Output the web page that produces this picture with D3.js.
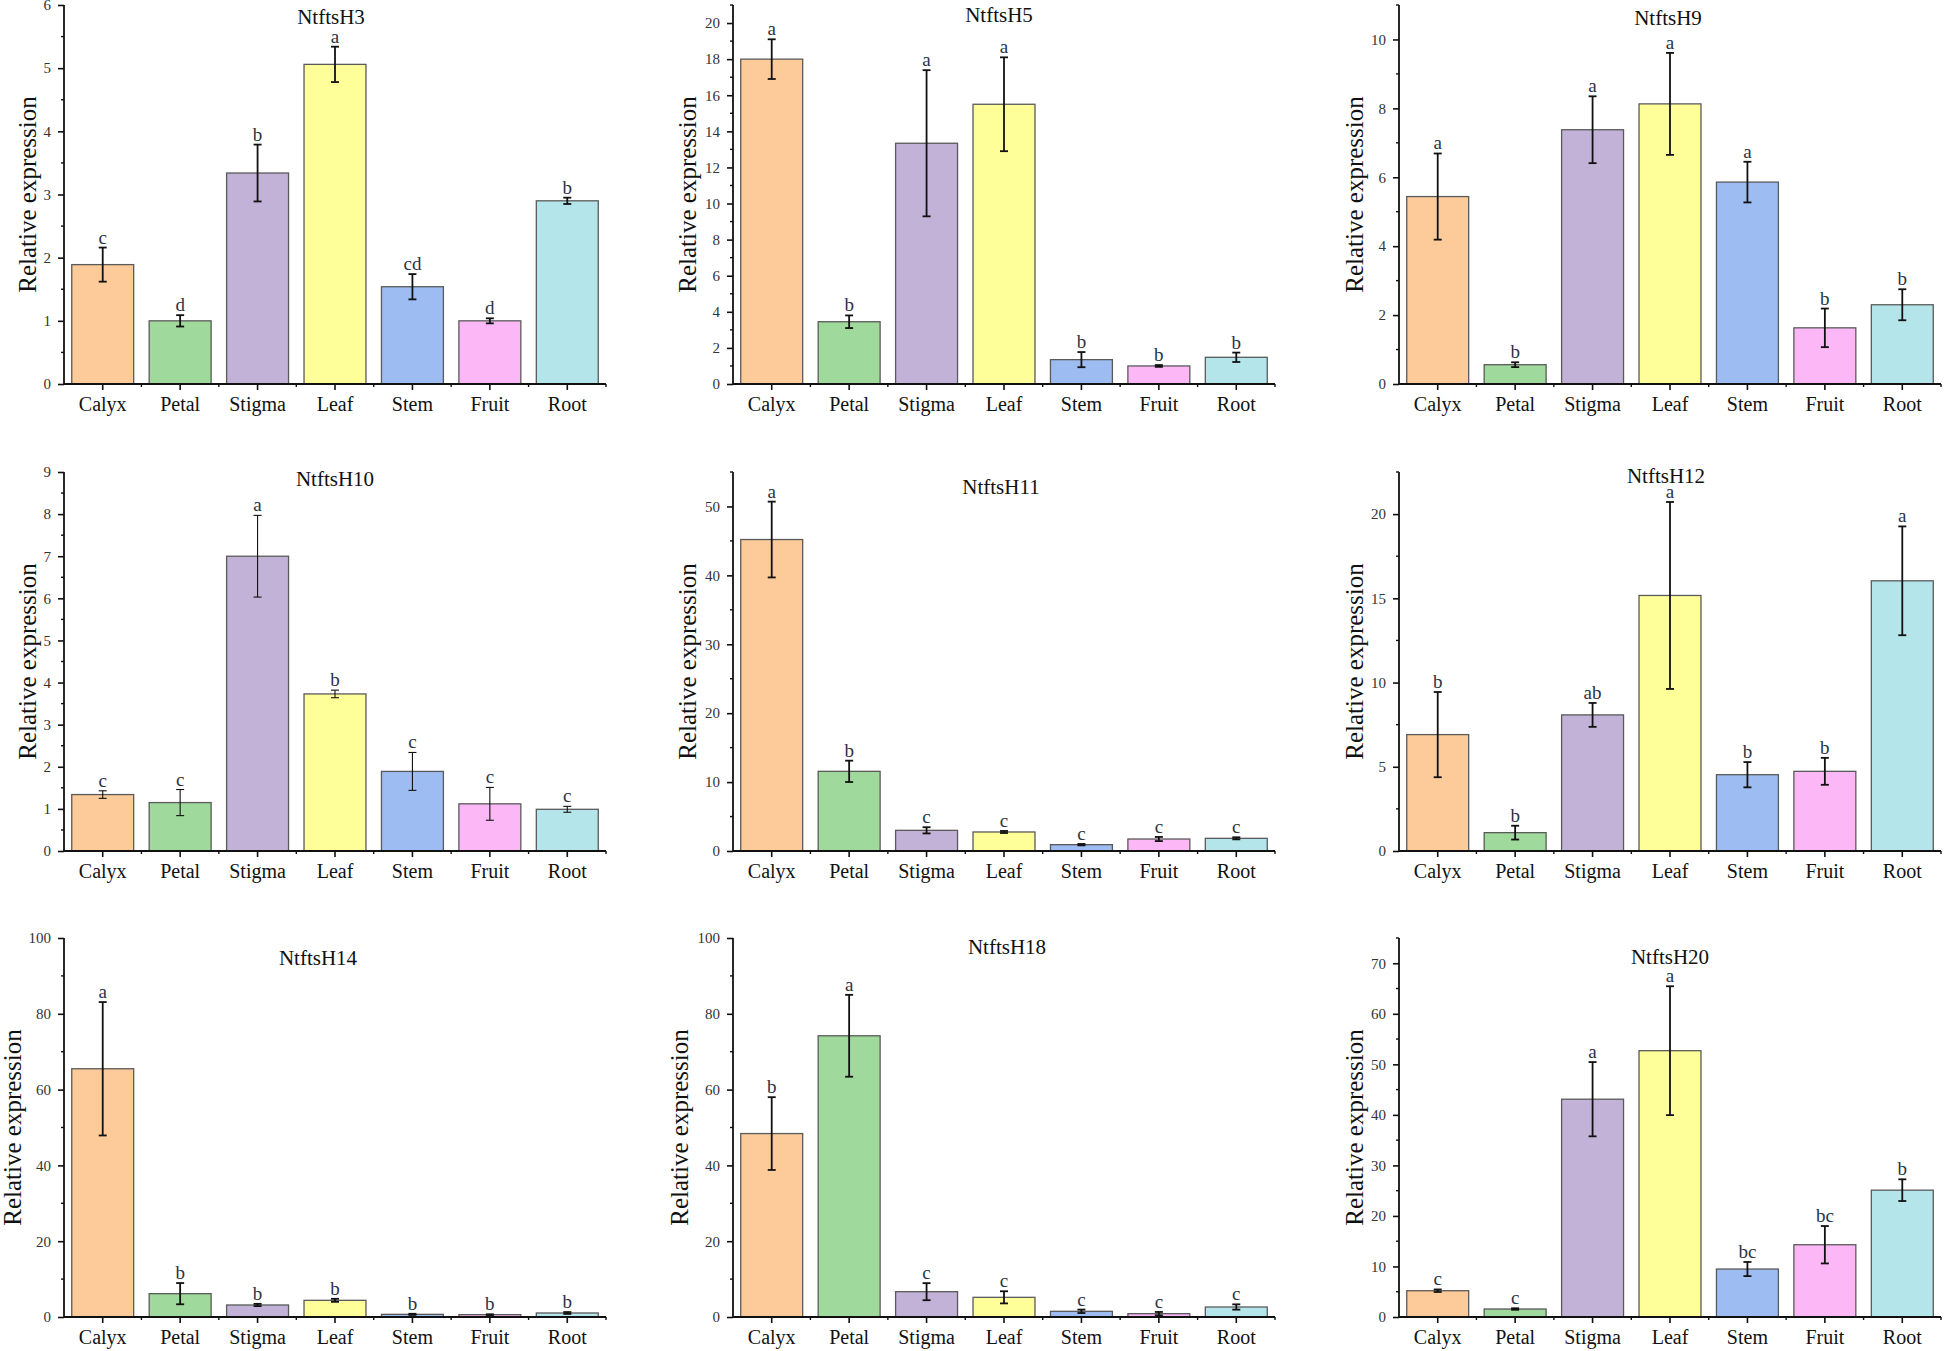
<!DOCTYPE html>
<html>
<head>
<meta charset="utf-8">
<script src="https://cdn.jsdelivr.net/npm/d3@7"></script>
<style>
  html, body { margin: 0; padding: 0; background: #ffffff; }
  svg { display: block; }
  text { font-family: "Liberation Serif", "Times New Roman", serif; }
</style>
</head>
<body>
<svg id="chart" width="1944" height="1351"></svg>
<script>
// ---------------- DATA ----------------
const categories = ["Calyx", "Petal", "Stigma", "Leaf", "Stem", "Fruit", "Root"];
const genes = ["NtftsH3", "NtftsH5", "NtftsH9", "NtftsH10", "NtftsH11", "NtftsH12", "NtftsH14", "NtftsH18", "NtftsH20"];
const yAxisMax = [6, 21, 11, 9, 55, 22.5, 100, 100, 75];
const yMajorStep = [1, 2, 2, 1, 10, 5, 20, 20, 10];

const h3Mean = [1.89, 1.00, 3.34, 5.06, 1.54, 1.00, 2.90];
const h3Err = [0.27, 0.09, 0.45, 0.28, 0.20, 0.04, 0.05];
const h3Letters = ["c", "d", "b", "a", "cd", "d", "b"];

const h5Mean = [18.0, 3.45, 13.34, 15.5, 1.35, 1.00, 1.48];
const h5Err = [1.1, 0.35, 4.05, 2.6, 0.42, 0.05, 0.26];
const h5Letters = ["a", "b", "a", "a", "b", "b", "b"];

const h9Mean = [5.44, 0.56, 7.38, 8.13, 5.86, 1.63, 2.30];
const h9Err = [1.25, 0.07, 0.97, 1.48, 0.59, 0.56, 0.45];
const h9Letters = ["a", "b", "a", "a", "a", "b", "b"];

const h10Mean = [1.34, 1.15, 7.00, 3.73, 1.89, 1.12, 0.99];
const h10Err = [0.09, 0.31, 0.97, 0.09, 0.45, 0.39, 0.07];
const h10Letters = ["c", "c", "a", "b", "c", "c", "c"];

const h11Mean = [45.2, 11.56, 3.0, 2.76, 0.92, 1.74, 1.84];
const h11Err = [5.5, 1.55, 0.45, 0.15, 0.1, 0.3, 0.15];
const h11Letters = ["a", "b", "c", "c", "c", "c", "c"];

const h12Mean = [6.91, 1.09, 8.08, 15.17, 4.53, 4.73, 16.04];
const h12Err = [2.53, 0.41, 0.71, 5.55, 0.75, 0.80, 3.23];
const h12Letters = ["b", "b", "ab", "a", "b", "b", "a"];

const h14Mean = [65.5, 6.16, 3.17, 4.4, 0.7, 0.62, 1.06];
const h14Err = [17.6, 2.8, 0.3, 0.4, 0.15, 0.1, 0.25];
const h14Letters = ["a", "b", "b", "b", "b", "b", "b"];

const h18Mean = [48.4, 74.2, 6.68, 5.19, 1.5, 0.88, 2.64];
const h18Err = [9.6, 10.8, 2.25, 1.6, 0.45, 0.45, 0.7];
const h18Letters = ["b", "a", "c", "c", "c", "c", "c"];

const h20Mean = [5.2, 1.58, 43.1, 52.7, 9.49, 14.3, 25.1];
const h20Err = [0.25, 0.15, 7.35, 12.75, 1.4, 3.7, 2.15];
const h20Letters = ["c", "c", "a", "a", "bc", "bc", "b"];

const barColors = ["#FCCB99", "#9FD99B", "#C3B2D8", "#FFFF99", "#9DBCF2", "#FCB8F6", "#B4E5EA"];

const seriesMeans = [h3Mean, h5Mean, h9Mean, h10Mean, h11Mean, h12Mean, h14Mean, h18Mean, h20Mean];
const seriesErrs = [h3Err, h5Err, h9Err, h10Err, h11Err, h12Err, h14Err, h18Err, h20Err];
const seriesLetters = [h3Letters, h5Letters, h9Letters, h10Letters, h11Letters, h12Letters, h14Letters, h18Letters, h20Letters];

// ---------------- LAYOUT ----------------
const colX = [64, 733, 1399];
const rowTop = [5, 472, 938];
const plotW = 542, plotH = 379;
const titleOffset = [[267, 19], [266, 17], [269, 20], [271, 14], [268, 22], [267, 11], [254, 27], [274, 16], [271, 26]];
const ylabOffset = [37, 46, 45, 37, 46, 45, 52, 54, 45];

const svg = d3.select("#chart");

genes.forEach((gene, gi) => {
  const col = gi % 3, row = Math.floor(gi / 3);
  const x0 = colX[col], yTop = rowTop[row], yBot = yTop + plotH;
  const means = seriesMeans[gi], errs = seriesErrs[gi], letters = seriesLetters[gi];

  const x = d3.scaleBand().domain(categories).range([x0, x0 + plotW])
    .paddingInner(0.2).paddingOuter(0.1);
  const y = d3.scaleLinear().domain([0, yAxisMax[gi]]).range([yBot, yTop]);

  const g = svg.append("g");

  // bars
  g.selectAll("rect.bar").data(categories).join("rect")
    .attr("class", "bar")
    .attr("x", d => x(d))
    .attr("width", x.bandwidth())
    .attr("y", (d, i) => y(means[i]))
    .attr("height", (d, i) => y(0) - y(means[i]))
    .attr("fill", (d, i) => barColors[i])
    .attr("stroke", "#5a5a5a")
    .attr("stroke-width", 1.3);

  // error bars
  const ew = gi === 3 ? 1.1 : 1.8;
  const cap = 4;
  const eg = g.selectAll("g.err").data(categories).join("g").attr("class", "err")
    .attr("stroke", "#111").attr("stroke-width", ew);
  eg.append("line")
    .attr("x1", d => x(d) + x.bandwidth() / 2).attr("x2", d => x(d) + x.bandwidth() / 2)
    .attr("y1", (d, i) => y(means[i] + errs[i])).attr("y2", (d, i) => y(Math.max(0, means[i] - errs[i])));
  eg.append("line")
    .attr("x1", d => x(d) + x.bandwidth() / 2 - cap).attr("x2", d => x(d) + x.bandwidth() / 2 + cap)
    .attr("y1", (d, i) => y(means[i] + errs[i])).attr("y2", (d, i) => y(means[i] + errs[i]));
  eg.append("line")
    .attr("x1", d => x(d) + x.bandwidth() / 2 - cap).attr("x2", d => x(d) + x.bandwidth() / 2 + cap)
    .attr("y1", (d, i) => y(Math.max(0, means[i] - errs[i]))).attr("y2", (d, i) => y(Math.max(0, means[i] - errs[i])));

  // significance letters
  g.selectAll("text.sig").data(categories).join("text")
    .attr("class", "sig")
    .attr("x", d => x(d) + x.bandwidth() / 2)
    .attr("y", (d, i) => y(means[i] + errs[i]) - 4)
    .attr("text-anchor", "middle")
    .attr("font-size", 19)
    .attr("fill", "#2b3346")
    .text((d, i) => letters[i]);

  // y axis
  const step = yMajorStep[gi];
  const majors = d3.range(0, yAxisMax[gi] + 1e-9, step);
  const minors = d3.range(step / 2, yAxisMax[gi] + 1e-9, step);
  const yAxis = d3.axisLeft(y).tickValues(majors).tickSize(6).tickPadding(7)
    .tickFormat(d3.format("d"));
  const ya = g.append("g").attr("transform", `translate(${x0},0)`).call(yAxis);
  ya.select(".domain").attr("stroke", "#111").attr("stroke-width", 1.8)
    .attr("d", `M0,${yBot}V${yTop}`);
  ya.selectAll(".tick line").attr("stroke", "#111").attr("stroke-width", 1.6);
  ya.selectAll(".tick text").attr("font-size", 15).attr("fill", "#333")
    .attr("font-family", "Liberation Serif");
  g.selectAll("line.yminor").data(minors).join("line").attr("class", "yminor")
    .attr("x1", x0 - 3).attr("x2", x0).attr("y1", d => y(d)).attr("y2", d => y(d))
    .attr("stroke", "#111").attr("stroke-width", 1.4);

  // x axis
  const xAxis = d3.axisBottom(x).tickSize(6).tickPadding(7);
  const xa = g.append("g").attr("transform", `translate(0,${yBot})`).call(xAxis);
  xa.select(".domain").attr("stroke", "#111").attr("stroke-width", 1.8)
    .attr("d", `M${x0},0H${x0 + plotW}`);
  xa.selectAll(".tick line").attr("stroke", "#111").attr("stroke-width", 1.6);
  xa.selectAll(".tick text").attr("font-size", 20).attr("fill", "#111")
    .attr("font-family", "Liberation Serif").attr("dy", "0.72em");
  const edges = d3.range(1, categories.length + 1).map(k => x0 + k * x.step());
  g.selectAll("line.xminor").data(edges).join("line").attr("class", "xminor")
    .attr("x1", d => d).attr("x2", d => d).attr("y1", yBot).attr("y2", yBot + 3)
    .attr("stroke", "#111").attr("stroke-width", 1.4);

  // title
  g.append("text")
    .attr("x", x0 + titleOffset[gi][0]).attr("y", yTop + titleOffset[gi][1])
    .attr("text-anchor", "middle").attr("font-size", 21).attr("fill", "#111")
    .text(gene);

  // y label
  g.append("text")
    .attr("transform", `translate(${x0 - ylabOffset[gi]},${(yTop + yBot) / 2}) rotate(-90)`)
    .attr("text-anchor", "middle").attr("dominant-baseline", "central")
    .attr("font-size", 25).attr("fill", "#111")
    .text("Relative expression");
});
</script>
</body>
</html>
